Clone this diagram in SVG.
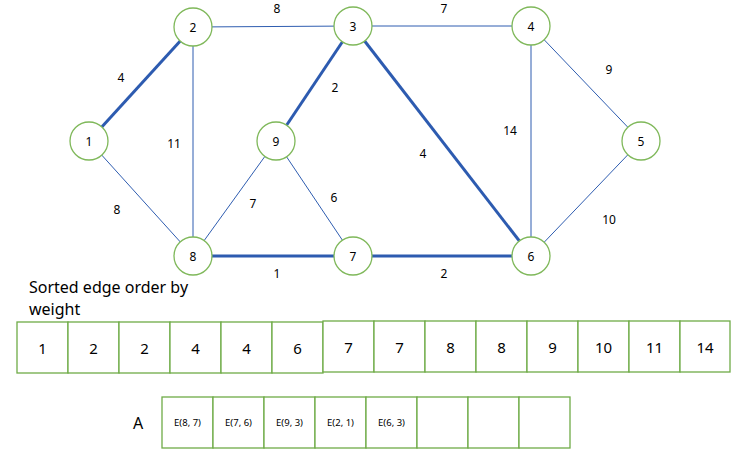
<svg xmlns="http://www.w3.org/2000/svg" width="750" height="463" viewBox="0 0 750 463">
<style>
.bg{fill:#ffffff}
.node circle{fill:#ffffff;stroke:#7fb85a;stroke-width:1.3}
.node text{font-family:"Noto Sans","Liberation Sans",sans-serif;font-size:12px;fill:#000;text-anchor:middle;dominant-baseline:central}
.e{stroke:#2f5db0;stroke-width:1;fill:none}
.m{stroke:#2d5bb0;stroke-width:3;fill:none}
.lbl{font-family:"Noto Sans","Liberation Sans",sans-serif;font-size:12px;fill:#000;text-anchor:middle;dominant-baseline:central}
.cell rect{fill:#ffffff;stroke:#6fab47;stroke-width:1.3}
.cell text{font-family:"Noto Sans","Liberation Sans",sans-serif;font-size:15px;fill:#000;text-anchor:middle;dominant-baseline:central}
.acell rect{fill:#ffffff;stroke:#6fab47;stroke-width:1.3}
.acell text{font-family:"Noto Sans","Liberation Sans",sans-serif;font-size:9.5px;fill:#000;text-anchor:middle;dominant-baseline:central}
.title{font-family:"Noto Sans","Liberation Sans",sans-serif;font-size:16px;fill:#000}
</style>
<rect class="bg" x="0" y="0" width="750" height="463"/>
<g id="connectors">
<line class="e" x1="193" y1="27" x2="353" y2="26"/>
<line class="e" x1="353" y1="26" x2="531" y2="26"/>
<line class="e" x1="193" y1="27" x2="193" y2="256"/>
<line class="e" x1="89" y1="141" x2="193" y2="256"/>
<line class="e" x1="276" y1="141" x2="193" y2="256"/>
<line class="e" x1="276" y1="141" x2="353" y2="256"/>
<line class="e" x1="531" y1="26" x2="531" y2="256"/>
<line class="e" x1="531" y1="26" x2="641" y2="141"/>
<line class="e" x1="641" y1="141" x2="531" y2="256"/>
<line class="m" x1="89" y1="141" x2="193" y2="27"/>
<line class="m" x1="276" y1="141" x2="353" y2="26"/>
<line class="m" x1="353" y1="26" x2="531" y2="256"/>
<line class="m" x1="193" y1="256" x2="353" y2="256"/>
<line class="m" x1="353" y1="256" x2="531" y2="256"/>
<text class="lbl" x="277" y="8">8</text>
<text class="lbl" x="444" y="8">7</text>
<text class="lbl" x="121" y="77">4</text>
<text class="lbl" x="174" y="143">11</text>
<text class="lbl" x="335" y="87">2</text>
<text class="lbl" x="117" y="209">8</text>
<text class="lbl" x="253" y="203">7</text>
<text class="lbl" x="334" y="197">6</text>
<text class="lbl" x="277" y="273">1</text>
<text class="lbl" x="609" y="69">9</text>
<text class="lbl" x="510" y="130">14</text>
<text class="lbl" x="423" y="153">4</text>
<text class="lbl" x="609" y="219">10</text>
<text class="lbl" x="444" y="273">2</text>
</g>
<g id="n1" class="node"><circle cx="89" cy="141" r="19"/><text x="89" y="141">1</text></g>
<g id="n2" class="node"><circle cx="193" cy="27" r="19"/><text x="193" y="27">2</text></g>
<g id="n3" class="node"><circle cx="353" cy="26" r="19"/><text x="353" y="26">3</text></g>
<g id="n4" class="node"><circle cx="531" cy="26" r="19"/><text x="531" y="26">4</text></g>
<g id="n5" class="node"><circle cx="641" cy="141" r="19"/><text x="641" y="141">5</text></g>
<g id="n6" class="node"><circle cx="531" cy="256" r="19"/><text x="531" y="256">6</text></g>
<g id="n7" class="node"><circle cx="353" cy="256" r="19"/><text x="353" y="256">7</text></g>
<g id="n8" class="node"><circle cx="193" cy="256" r="19"/><text x="193" y="256">8</text></g>
<g id="n9" class="node"><circle cx="276" cy="141" r="19"/><text x="276" y="141">9</text></g>
<g id="sorted-title">
<text class="title" x="29" y="292.5">Sorted edge order by</text>
<text class="title" x="29" y="314.5">weight</text>
</g>
<g id="sorted">
<g class="cell"><rect x="17" y="322" width="51" height="51"/><text x="42.5" y="348">1</text></g>
<g class="cell"><rect x="68" y="322" width="51" height="51"/><text x="93.5" y="348">2</text></g>
<g class="cell"><rect x="119" y="322" width="51" height="51"/><text x="144.5" y="348">2</text></g>
<g class="cell"><rect x="170" y="322" width="51" height="51"/><text x="195.5" y="348">4</text></g>
<g class="cell"><rect x="221" y="322" width="51" height="51"/><text x="246.5" y="348">4</text></g>
<g class="cell"><rect x="272" y="322" width="51" height="51"/><text x="297.5" y="348">6</text></g>
<g class="cell"><rect x="323" y="321" width="51" height="51"/><text x="348.5" y="347">7</text></g>
<g class="cell"><rect x="374" y="321" width="51" height="51"/><text x="399.5" y="347">7</text></g>
<g class="cell"><rect x="425" y="321" width="51" height="51"/><text x="450.5" y="347">8</text></g>
<g class="cell"><rect x="476" y="321" width="51" height="51"/><text x="501.5" y="347">8</text></g>
<g class="cell"><rect x="527" y="321" width="51" height="51"/><text x="552.5" y="347">9</text></g>
<g class="cell"><rect x="578" y="321" width="51" height="51"/><text x="603.5" y="347">10</text></g>
<g class="cell"><rect x="629" y="321" width="51" height="51"/><text x="654.5" y="347">11</text></g>
<g class="cell"><rect x="680" y="321" width="50" height="51"/><text x="705" y="347">14</text></g>
</g>
<g id="a-label"><text class="title" x="138" y="423" text-anchor="middle" dominant-baseline="central">A</text></g>
<g id="A">
<g class="acell"><rect x="162" y="397" width="51" height="51"/><text x="187.5" y="422.5">E(8, 7)</text></g>
<g class="acell"><rect x="213" y="397" width="51" height="51"/><text x="238.5" y="422.5">E(7, 6)</text></g>
<g class="acell"><rect x="264" y="397" width="51" height="51"/><text x="289.5" y="422.5">E(9, 3)</text></g>
<g class="acell"><rect x="315" y="397" width="51" height="51"/><text x="340.5" y="422.5">E(2, 1)</text></g>
<g class="acell"><rect x="366" y="397" width="51" height="51"/><text x="391.5" y="422.5">E(6, 3)</text></g>
<g class="acell"><rect x="417" y="397" width="51" height="51"/></g>
<g class="acell"><rect x="468" y="397" width="51" height="51"/></g>
<g class="acell"><rect x="519" y="397" width="51" height="51"/></g>
</g>
</svg>
